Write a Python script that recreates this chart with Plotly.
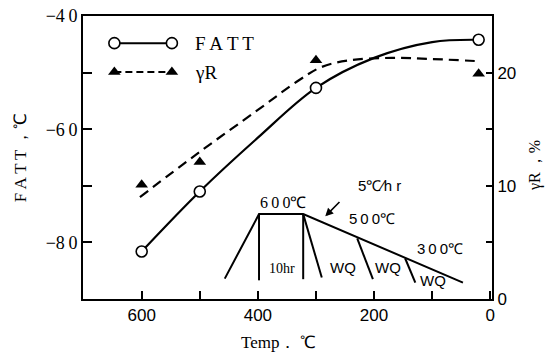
import plotly.graph_objects as go

# ---- data ----
temp_pts = [600, 500, 300, 20]
fatt_pts = [-81.6, -71.0, -52.7, -44.2]
gamma_pts = [10.1, 12.1, 21.1, 19.9]

# fitted curves
fatt_curve_t = [600, 500, 400, 300, 200, 100, 21]
fatt_curve_v = [-81.6, -71.0, -61.5, -52.7, -47.4, -44.6, -44.2]
gamma_curve_t = [603, 500, 400, 330, 290, 240, 170, 100, 17]
gamma_curve_v = [9.0, 13.0, 16.7, 19.3, 20.5, 21.1, 21.3, 21.2, 21.0]

x_tickvals = [600, 500, 400, 300, 200, 100, 0]
x_ticktext = ["600", "", "400", "", "200", "", "0"]
y_tickvals = [-40, -50, -60, -70, -80, -90]
y_ticktext = ["\u22124\u20090", "", "\u22126\u20090", "", "\u22128\u20090", ""]
y2_tickvals = [0, 5, 10, 15, 20]
y2_ticktext = ["0", "", "10", "", "20"]

# heat-treatment schematic (in temp / FATT axis units)
sched_main_x = [457, 398, 322, 47]
sched_main_y = [-86.4, -75.0, -75.0, -87.1]
sched_segments = [
    ([398, 398], [-75.0, -86.7]),
    ([322, 322], [-75.0, -86.5]),
    ([322, 290], [-75.0, -86.2]),
    ([229, 202], [-79.3, -86.5]),
    ([146.6, 129], [-82.8, -87.1]),
]
sched_labels = [
    (357, -72.9, "6\u20090\u20090\u2103", "Liberation Serif", 16),
    (358, -84.6, "10hr", "Liberation Serif", 14),
    (253, -84.4, "WQ", "Liberation Sans", 15),
    (176, -84.4, "WQ", "Liberation Sans", 15),
    (98, -86.7, "WQ", "Liberation Sans", 15),
    (190, -69.9, "5\u2103\u2215h r", "Liberation Sans", 15),
    (203, -75.8, "5\u20090\u20090\u2103", "Liberation Sans", 15),
    (86, -81.1, "3\u20090\u20090\u2103", "Liberation Sans", 15),
]

# legend sample positions (axis units)
legend_x = [647, 548]
legend_y_fatt = -44.8
legend_y_gamma = -49.9
legend_text_x = 512

fig = go.Figure()

fig.add_trace(go.Scatter(x=fatt_curve_t, y=fatt_curve_v, mode="lines",
                         line=dict(color="black", width=2.2, shape="spline"),
                         showlegend=False))
fig.add_trace(go.Scatter(x=gamma_curve_t, y=gamma_curve_v, mode="lines", yaxis="y2",
                         line=dict(color="black", width=2.2, shape="spline", dash="10px,6px"),
                         showlegend=False))
fig.add_trace(go.Scatter(x=temp_pts, y=fatt_pts, mode="markers",
                         marker=dict(symbol="circle", size=11, color="white",
                                     line=dict(color="black", width=1.6)),
                         showlegend=False))
fig.add_trace(go.Scatter(x=temp_pts, y=gamma_pts, mode="markers", yaxis="y2",
                         marker=dict(symbol="triangle-up", size=11, color="black"),
                         showlegend=False))

# legend samples
fig.add_trace(go.Scatter(x=legend_x, y=[legend_y_fatt] * 2, mode="lines+markers",
                         line=dict(color="black", width=2),
                         marker=dict(symbol="circle", size=11, color="white",
                                     line=dict(color="black", width=1.6)),
                         showlegend=False))
fig.add_trace(go.Scatter(x=legend_x, y=[legend_y_gamma] * 2, mode="lines+markers",
                         line=dict(color="black", width=2, dash="7px,4px"),
                         marker=dict(symbol="triangle-up", size=11, color="black"),
                         showlegend=False))
fig.add_annotation(x=legend_text_x, y=legend_y_fatt, text="F\u2009A\u2009T\u2009T",
                   showarrow=False, xanchor="left", yanchor="middle",
                   font=dict(family="Liberation Serif", size=19, color="black"))
fig.add_annotation(x=legend_text_x, y=legend_y_gamma, text="\u03b3R",
                   showarrow=False, xanchor="left", yanchor="middle",
                   font=dict(family="Liberation Serif", size=19, color="black"))

# schematic
fig.add_trace(go.Scatter(x=sched_main_x, y=sched_main_y, mode="lines",
                         line=dict(color="black", width=2), showlegend=False))
for sx, sy in sched_segments:
    fig.add_trace(go.Scatter(x=sx, y=sy, mode="lines",
                             line=dict(color="black", width=2), showlegend=False))
for lx, ly, lt, lf, ls in sched_labels:
    fig.add_annotation(x=lx, y=ly, text=lt, showarrow=False,
                       font=dict(family=lf, size=ls, color="black"))
fig.add_annotation(x=284, y=-75.4, ax=257, ay=-72.6, axref="x", ayref="y",
                   xref="x", yref="y", text="", showarrow=True,
                   arrowhead=2, arrowsize=1, arrowwidth=1.6, arrowcolor="black")

# axis titles
fig.add_annotation(xref="paper", yref="paper", x=-0.152, y=0.5,
                   xanchor="center", yanchor="middle",
                   text="F\u2009A\u2009T\u2009T\u2009\uff0c\u2103", textangle=-90,
                   showarrow=False, font=dict(family="Liberation Serif", size=17, color="black"))
fig.add_annotation(xref="paper", yref="paper", x=1.105, y=0.473,
                   xanchor="center", yanchor="middle",
                   text="\u03b3R\u2009\uff0c%", textangle=-90,
                   showarrow=False, font=dict(family="Liberation Serif", size=16, color="black"))
fig.add_annotation(xref="paper", yref="paper", x=0.477, y=-0.152,
                   xanchor="center", yanchor="middle",
                   text="Temp\uff0e\u2009\u2103", showarrow=False,
                   font=dict(family="Liberation Serif", size=17, color="black"))

fig.update_layout(
    width=549, height=353,
    margin=dict(l=83, r=57, t=16, b=54, autoexpand=False),
    paper_bgcolor="white", plot_bgcolor="white",
    showlegend=False,
    xaxis=dict(range=[701, -3], tickvals=x_tickvals, ticktext=x_ticktext,
               ticks="inside", ticklen=8, tickwidth=1.5, tickcolor="black",
               showline=True, linecolor="black", linewidth=2, mirror=True,
               showgrid=False, zeroline=False, automargin=False,
               tickfont=dict(family="Liberation Sans", size=17, color="black")),
    yaxis=dict(range=[-90, -40], tickvals=y_tickvals, ticktext=y_ticktext,
               ticks="inside", ticklen=9, tickwidth=1.5, tickcolor="black",
               showline=True, linecolor="black", linewidth=2,
               showgrid=False, zeroline=False, automargin=False,
               tickfont=dict(family="Liberation Serif", size=18, color="black")),
    yaxis2=dict(range=[0, 25], overlaying="y", side="right",
                tickvals=y2_tickvals, ticktext=y2_ticktext,
                ticks="inside", ticklen=6, tickwidth=1.5, tickcolor="black",
                showline=True, linecolor="black", linewidth=2,
                showgrid=False, zeroline=False, automargin=False,
                tickfont=dict(family="Liberation Sans", size=17, color="black")),
)

fig.write_html("out.html", config={"displayModeBar": False},
               post_script="document.body.style.margin='0';")
